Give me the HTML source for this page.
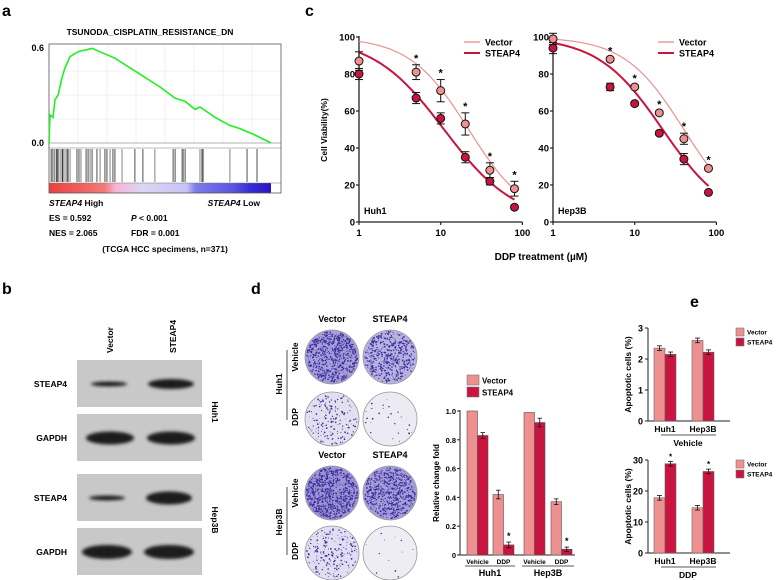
<!DOCTYPE html>
<html><head><meta charset="utf-8"><style>
html,body{margin:0;padding:0;background:#fff;width:777px;height:580px;overflow:hidden}
svg{display:block;font-family:"Liberation Sans",Arial,sans-serif;font-weight:bold}
</style></head><body>
<svg id="fig" width="777" height="580" viewBox="0 0 777 580" xmlns="http://www.w3.org/2000/svg">
<defs><filter id="blur" x="-20%" y="-50%" width="140%" height="200%"><feGaussianBlur stdDeviation="1.5"/></filter></defs>
<g id="pa"></g>
<g id="pb"></g>
<g id="pc"></g>
<g id="pd"></g>
<g id="pe"></g>
</svg>
<script>
// ---------- Panel a data ----------
const esRank=[0,0.45,1.8,2.7,4.1,5.9,7.2,9.5,11.7,14,16.2,19.4,23,29.7,41,50,56.8,61.3,65.8,68,74.8,81.5,86,92.8,100];
const esScore=[0,0.175,0.16,0.27,0.30,0.41,0.47,0.54,0.56,0.575,0.58,0.592,0.57,0.53,0.43,0.35,0.28,0.26,0.21,0.225,0.16,0.11,0.09,0.05,0];
const hitRanks=[0.9,1.4,2.3,3.2,3.6,4.1,5,5.9,6.3,7.2,8.1,8.6,9.5,12.6,13.5,14.4,16.7,17.6,18.5,19.4,21.6,23,25.2,26.1,27.5,28.8,29.7,32.9,38.7,42.3,47.7,55.9,56.8,59.9,60.4,61.3,68,68.9,69.4,81.5,89.2,93.7];
// ---------- Panel c data ----------
const doses=[1,5,10,20,40,80];
const huhVector=[87,81,71,53,28,18];
const huhVectorErr=[5,4,6,6,4,4];
const huhSteap=[80,67,56,35,22,8];
const huhSteapErr=[3,3,3,3,2,1];
const hepVector=[99,88,73,59,45,29];
const hepVectorErr=[3,1,1,1,3,1];
const hepSteap=[94,73,64,48,34,16];
const hepSteapErr=[3,2,1,1,3,1];
const fitIC50=[22,11,40,22];
const fitHill=[1.2,1.0,1.2,1.1];
const cTicks=[1,10,100];
const cYTicks=[0,20,40,60,80,100];
// ---------- Panel d data ----------
const dGroups=["Vehicle","DDP","Vehicle","DDP"];
const dVector=[1.0,0.42,0.99,0.37];
const dVectorErr=[0,0.03,0,0.02];
const dSteap=[0.83,0.07,0.92,0.04];
const dSteapErr=[0.02,0.02,0.03,0.015];
const dYTicks=[0,0.2,0.4,0.6,0.8,1.0];
// ---------- Panel e data ----------
const eCells=["Huh1","Hep3B"];
const eVehVector=[2.35,2.6];
const eVehSteap=[2.15,2.22];
const eDdpVector=[17.8,14.6];
const eDdpSteap=[28.8,26.3];
const eVehTicks=[0,1,2,3];
const eDdpTicks=[0,10,20,30];

const NS="http://www.w3.org/2000/svg";
const PINK="#ee9090", RED="#c8143f";
function mk(p,tag,a,txt){const e=document.createElementNS(NS,tag);for(const k in a)e.setAttribute(k,a[k]);if(txt!==undefined)e.textContent=txt;p.appendChild(e);return e;}
function label(p,x,y,t,size,anchor,rot,name){
  const e=mk(p,'text',{x:x,y:y,'font-size':size,'text-anchor':anchor||'start'},t);
  if(rot)e.setAttribute('transform','rotate('+rot+' '+x+' '+y+')');
  
  
  return e;}
const fig=document.getElementById('fig');
label(fig,2,16,'a',16,'start',0,'panel-label-a');
label(fig,2,294,'b',16,'start',0,'panel-label-b');
label(fig,305,16,'c',16,'start',0,'panel-label-c');
label(fig,251,294,'d',16,'start',0,'panel-label-d');
label(fig,690,307,'e',16,'start',0,'panel-label-e');

// ================= Panel a =================
(function(){
const g=document.getElementById('pa');
const X0=49,X1=271,Y0=143,YS=160;
const xr=r=>X0+r/100*(X1-X0), ys=v=>Y0-v*YS;
label(g,150,35,'TSUNODA_CISPLATIN_RESISTANCE_DN',8.5,'middle',0,'gsea-title');
const defs=mk(g,'defs',{});
const lg=mk(defs,'linearGradient',{id:'heat',x1:0,x2:1,y1:0,y2:0});
[[0,'#e8413f'],[0.25,'#f27a7a'],[0.3,'#f5b5d5'],[0.42,'#dcd6f5'],[0.62,'#c8c2f5'],[0.66,'#7f7cea'],[0.83,'#5a55e0'],[0.9,'#3a2fd4'],[1,'#2a12c0']].forEach(s=>mk(lg,'stop',{offset:s[0],'stop-color':s[1]}));
const hb=mk(g,'rect',{x:X0,y:183,width:X1-X0,height:10,fill:'url(#heat)'});

for(let i=1;i<8;i++){mk(g,'line',{x1:X0+i*29,x2:X0+i*29,y1:44,y2:143,stroke:'#e6e6e6','stroke-width':0.5});}
[71,95,119].forEach(y=>mk(g,'line',{x1:X0,x2:281,y1:y,y2:y,stroke:'#e6e6e6','stroke-width':0.5}));
mk(g,'line',{x1:X0,x2:281,y1:Y0,y2:Y0,stroke:'#999','stroke-width':0.8});
mk(g,'line',{x1:X0,x2:281,y1:148,y2:148,stroke:'#777','stroke-width':0.6});
mk(g,'line',{x1:X0,x2:281,y1:183,y2:183,stroke:'#777','stroke-width':0.6});
const box=mk(g,'rect',{x:X0,y:44,width:281-X0,height:149,fill:'none',stroke:'#555','stroke-width':0.8});

label(g,44,51,'0.6',9,'end',0,'y-tick-0.6');
label(g,44,146,'0.0',9,'end',0,'y-tick-0.0');
hitRanks.forEach((r,i)=>{const l=mk(g,'line',{x1:xr(r),x2:xr(r),y1:149,y2:182,stroke:i%3?'#222':'#666','stroke-width':0.8});
 });
let d='';esRank.forEach((r,i)=>{d+=(i?'L':'M')+xr(r).toFixed(1)+' '+ys(esScore[i]).toFixed(1);});
const es=mk(g,'path',{d:d,fill:'none',stroke:'#22ee22','stroke-width':1.6});

const t1=label(g,49,206,'',8.5,'start',0,'high-label');
mk(t1,'tspan',{'font-style':'italic'},'STEAP4');mk(t1,'tspan',{},' High');
const t2=label(g,260,206,'',8.5,'end',0,'low-label');
mk(t2,'tspan',{'font-style':'italic'},'STEAP4');mk(t2,'tspan',{},' Low');
label(g,49,221,'ES = 0.592',8.5,'start',0,'es-value');
const p=label(g,131,221,'',8.5,'start',0,'p-value');mk(p,'tspan',{'font-style':'italic'},'P');mk(p,'tspan',{},' < 0.001');
label(g,49,236,'NES = 2.065',8.5,'start',0,'nes-value');
label(g,131,236,'FDR = 0.001',8.5,'start',0,'fdr-value');
label(g,165,252,'(TCGA HCC specimens, n=371)',8.5,'middle',0,'cohort-note');
})();

// ================= Panel b =================
(function(){
const g=document.getElementById('pb');
label(g,113,353,'Vector',8.5,'start',-90,'lane-label-vector');
label(g,176,353,'STEAP4',8.5,'start',-90,'lane-label-steap4');
const blots=[[360,'STEAP4',[[109,18,2.5],[171,23,5]]],[414,'GAPDH',[[110,24,6.5],[171,24,6.5]]],[474,'STEAP4',[[107,18,2.5],[169,23,6.5]]],[528,'GAPDH',[[107,25,7],[169,25,7]]]];
blots.forEach((b,i)=>{
  const r=mk(g,'rect',{x:77,y:b[0],width:125,height:47,fill:'#c8c8c8'});
  
  b[2].forEach(bd=>mk(g,'ellipse',{cx:bd[0],cy:b[0]+24,rx:bd[1],ry:bd[2],fill:'#1a1a1a',filter:'url(#blur)'}));
  label(g,67,b[0]+27,b[1],8.5,'end',0,'blot-label-'+i);
});
label(g,212,412,'Huh1',8.5,'middle',90,'cell-label-huh1');
label(g,212,520,'Hep3B',8.5,'middle',90,'cell-label-hep3b');
})();

// ================= Panel c =================
(function(){
const g=document.getElementById('pc');
const panels=[{x0:359,name:'huh1',cell:'Huh1',v:huhVector,ve:huhVectorErr,s:huhSteap,se:huhSteapErr,fi:0},
              {x0:553,name:'hep3b',cell:'Hep3B',v:hepVector,ve:hepVectorErr,s:hepSteap,se:hepSteapErr,fi:2}];
const Y0=222,YS=1.85,DEC=81.7;
const ys=v=>Y0-v*YS;
panels.forEach(P=>{
  const xs=d=>P.x0+Math.log10(d)*DEC;
  const pg=mk(g,'g',{});
  mk(pg,'line',{x1:P.x0,x2:P.x0,y1:ys(100)-1,y2:Y0,stroke:'#222','stroke-width':1.3});
  mk(pg,'line',{x1:P.x0,x2:xs(100),y1:Y0,y2:Y0,stroke:'#222','stroke-width':1.3});
  cYTicks.forEach(t=>{mk(pg,'line',{x1:P.x0-3,x2:P.x0,y1:ys(t),y2:ys(t),stroke:'#222','stroke-width':1.2});
    label(pg,P.x0-4,ys(t)+3.5,String(t),9.5,'end',0,'y-tick-'+t);});
  cTicks.forEach(t=>{mk(pg,'line',{x1:xs(t),x2:xs(t),y1:Y0,y2:Y0+3,stroke:'#222','stroke-width':1.2});
    label(pg,xs(t),Y0+14,String(t),9.5,'middle',0,'x-tick-'+t);});
  label(pg,P.x0+5,Y0-8,P.cell,9,'start',0,'cell-name');
  [[P.fi,PINK,1.2,'vector'],[P.fi+1,RED,2,'steap4']].forEach(f=>{
    let d='';for(let i=0;i<=60;i++){const dd=Math.pow(10,i/60*Math.log10(80));const v=100/(1+Math.pow(dd/fitIC50[f[0]],fitHill[f[0]]));d+=(i?'L':'M')+xs(dd).toFixed(1)+' '+ys(v).toFixed(1);}
    const p=mk(pg,'path',{d:d,fill:'none',stroke:f[1],'stroke-width':f[2]});
    
  });
  [[P.s,P.se,RED,'steap4'],[P.v,P.ve,PINK,'vector']].forEach(S=>{
    doses.forEach((d,i)=>{
      const x=xs(d),y=ys(S[0][i]),e=S[1][i]*YS;
      mk(pg,'line',{x1:x,x2:x,y1:y-e,y2:y+e,stroke:'#111','stroke-width':1});
      mk(pg,'line',{x1:x-4,x2:x+4,y1:y-e,y2:y-e,stroke:'#111','stroke-width':1});
      mk(pg,'line',{x1:x-4,x2:x+4,y1:y+e,y2:y+e,stroke:'#111','stroke-width':1});
      const c=mk(pg,'circle',{cx:x,cy:y,r:4,fill:S[2],stroke:'#111','stroke-width':1});
      
    });
  });
  doses.forEach((d,i)=>{if(i>0){const top=Math.max(P.v[i]+P.ve[i],P.s[i]+P.se[i]);label(pg,xs(d),ys(top)-3,'*',11,'middle',0,'sig-star');}});
  const lx=xs(1)+105;
  mk(pg,'line',{x1:lx,x2:lx+16,y1:42,y2:42,stroke:PINK,'stroke-width':1.4});
  mk(pg,'line',{x1:lx,x2:lx+16,y1:53,y2:53,stroke:RED,'stroke-width':2});
  label(pg,lx+21,45.5,'Vector',9,'start',0,'legend-vector');
  label(pg,lx+21,56.5,'STEAP4',9,'start',0,'legend-steap4');
});
label(g,327,130,'Cell Viability(%)',8.5,'middle',-90,'y-axis-title');
const xt=label(g,541,260,'DDP treatment (',10,'middle',0,'x-axis-title');
mk(xt,'tspan',{},'\u00b5M)');
})();

// ================= Panel d =================
(function(){
const g=document.getElementById('pd');
let seed=7;const rnd=()=>{seed=(seed*16807)%2147483647;return seed/2147483647;};
const dishes=[[332,357,'#a59ed8',700,'huh1-vehicle-vector'],[390,357,'#b8b2e0',520,'huh1-vehicle-steap4'],
 [332,419,'#e2e0ef',180,'huh1-ddp-vector'],[390,419,'#eceaf2',25,'huh1-ddp-steap4'],
 [332,493,'#9c94d4',760,'hep3b-vehicle-vector'],[390,493,'#a59ed8',680,'hep3b-vehicle-steap4'],
 [332,553,'#e0def0',200,'hep3b-ddp-vector'],[390,553,'#eeedf4',12,'hep3b-ddp-steap4']];
dishes.forEach(D=>{
  const c=mk(g,'circle',{cx:D[0],cy:D[1],r:27,fill:D[2],stroke:'#999','stroke-width':0.8});
  
  for(let i=0;i<D[3];i++){const a=rnd()*6.283,rr=Math.sqrt(rnd())*25.5;
    mk(g,'circle',{cx:D[0]+Math.cos(a)*rr,cy:D[1]+Math.sin(a)*rr,r:0.3+rnd()*0.6,fill:'#3a2a9a'});}
});
[322,458].forEach(y=>{label(g,332,y,'Vector',9,'middle',0,'col-vector');label(g,390,y,'STEAP4',9,'middle',0,'col-steap4');});
[[357,'Vehicle'],[417,'DDP'],[493,'Vehicle'],[551,'DDP']].forEach(r=>label(g,298,r[0],r[1],8.5,'middle',-90,'row-'+r[1].toLowerCase()));
label(g,282,384,'Huh1',8.5,'middle',-90,'dish-cell-huh1');
label(g,282,522,'Hep3B',8.5,'middle',-90,'dish-cell-hep3b');
mk(g,'line',{x1:287,x2:287,y1:350,y2:420,stroke:'#222','stroke-width':0.8});
mk(g,'line',{x1:287,x2:287,y1:487,y2:555,stroke:'#222','stroke-width':0.8});
const X0=460,Y0=555,H=144;const ys=v=>Y0-v*H;
const bg=mk(g,'g',{});
mk(bg,'line',{x1:X0,x2:X0,y1:ys(1)-1,y2:Y0,stroke:'#222','stroke-width':1});
mk(bg,'line',{x1:X0,x2:575,y1:Y0,y2:Y0,stroke:'#222','stroke-width':1});
dYTicks.forEach(t=>{mk(bg,'line',{x1:X0-3,x2:X0,y1:ys(t),y2:ys(t),stroke:'#222'});
  label(bg,X0-4,ys(t)+3,t===0?'0':t.toFixed(1),7.5,'end',0,'y-tick');});
label(bg,439,483,'Relative change fold',8,'middle',-90,'y-axis-title');
const gx=[467,493,524,551];
dGroups.forEach((gr,i)=>{
  [[dVector,dVectorErr,PINK,0,'vector'],[dSteap,dSteapErr,RED,10.5,'steap4']].forEach(S=>{
    const x=gx[i]+S[3],v=S[0][i],e=S[1][i]*H;
    const r=mk(bg,'rect',{x:x,y:ys(v),width:10.5,height:v*H,fill:S[2],stroke:'#555','stroke-width':0.6});
    
    if(e>0){mk(bg,'line',{x1:x+5.25,x2:x+5.25,y1:ys(v)-e,y2:ys(v)+e,stroke:'#111','stroke-width':0.8});
      mk(bg,'line',{x1:x+3,x2:x+7.5,y1:ys(v)-e,y2:ys(v)-e,stroke:'#111','stroke-width':0.8});
      mk(bg,'line',{x1:x+3,x2:x+7.5,y1:ys(v)+e,y2:ys(v)+e,stroke:'#111','stroke-width':0.8});}
  });
  if(gr==='DDP')label(bg,gx[i]+15.75,ys(dSteap[i]+dSteapErr[i])-3,'*',9,'middle',0,'sig-star');
  label(bg,gx[i]+10.5,564,gr,6.5,'middle',0,'x-group-'+gr.toLowerCase());
});
mk(bg,'line',{x1:465,x2:515,y1:566,y2:566,stroke:'#222','stroke-width':0.7});
mk(bg,'line',{x1:522,x2:574,y1:566,y2:566,stroke:'#222','stroke-width':0.7});
label(bg,490,576,'Huh1',9,'middle',0,'x-cell-huh1');
label(bg,548,576,'Hep3B',9,'middle',0,'x-cell-hep3b');
mk(bg,'rect',{x:467,y:375,width:12,height:10,fill:PINK,stroke:'#777','stroke-width':0.6});
mk(bg,'rect',{x:467,y:387,width:12,height:10,fill:RED,stroke:'#777','stroke-width':0.6});
label(bg,482,383.5,'Vector',8,'start',0,'legend-vector');
label(bg,482,395.5,'STEAP4',8,'start',0,'legend-steap4');
})();

// ================= Panel e =================
(function(){
const g=document.getElementById('pe');
const charts=[{y0:421,h:93,max:3,ticks:eVehTicks,v:eVehVector,s:eVehSteap,grp:'Vehicle',name:'vehicle',star:false},
              {y0:553,h:93,max:30,ticks:eDdpTicks,v:eDdpVector,s:eDdpSteap,grp:'DDP',name:'ddp',star:true}];
const X0=648;const bx=[654,692];
charts.forEach(C=>{
  const cg=mk(g,'g',{});
  const ys=v=>C.y0-v/C.max*C.h;
  mk(cg,'line',{x1:X0,x2:X0,y1:ys(C.max),y2:C.y0,stroke:'#222','stroke-width':1});
  mk(cg,'line',{x1:X0,x2:730,y1:C.y0,y2:C.y0,stroke:'#222','stroke-width':1});
  C.ticks.forEach(t=>{mk(cg,'line',{x1:X0-3,x2:X0,y1:ys(t),y2:ys(t),stroke:'#222'});
    label(cg,X0-5,ys(t)+3.5,String(t),9,'end',0,'y-tick-'+t);});
  label(cg,631,C.y0-C.h/2,'Apoptotic cells (%)',8.5,'middle',-90,'y-axis-title');
  eCells.forEach((cell,i)=>{
    [[C.v,PINK,0,'vector'],[C.s,RED,11,'steap4']].forEach(S=>{
      const x=bx[i]+S[2],v=S[0][i],e=C.max*0.025;
      const r=mk(cg,'rect',{x:x,y:ys(v),width:11,height:C.y0-ys(v),fill:S[1],stroke:'#666','stroke-width':0.6});
      
      mk(cg,'line',{x1:x+5.5,x2:x+5.5,y1:ys(v+e),y2:ys(v-e),stroke:'#111','stroke-width':0.8});
      mk(cg,'line',{x1:x+3,x2:x+8,y1:ys(v+e),y2:ys(v+e),stroke:'#111','stroke-width':0.8});
      mk(cg,'line',{x1:x+3,x2:x+8,y1:ys(v-e),y2:ys(v-e),stroke:'#111','stroke-width':0.8});
    });
    if(C.star)label(cg,bx[i]+16.5,ys(C.s[i]+C.max*0.025)-2,'*',8,'middle',0,'sig-star');
    label(cg,bx[i]+11,C.y0+11,cell,8.5,'middle',0,'x-cell-'+cell.toLowerCase());
  });
  mk(cg,'line',{x1:661,x2:716,y1:C.y0+14,y2:C.y0+14,stroke:'#222','stroke-width':0.7});
  label(cg,688,C.y0+25,C.grp,8.5,'middle',0,'x-group');
  const ly=ys(C.max);
  mk(cg,'rect',{x:736,y:ly,width:8,height:8,fill:PINK,stroke:'#777','stroke-width':0.6});
  mk(cg,'rect',{x:736,y:ly+10,width:8,height:8,fill:RED,stroke:'#777','stroke-width':0.6});
  label(cg,747,ly+6.5,'Vector',6.5,'start',0,'legend-vector');
  label(cg,747,ly+16.5,'STEAP4',6.5,'start',0,'legend-steap4');
});
})();
</script>
</body></html>
